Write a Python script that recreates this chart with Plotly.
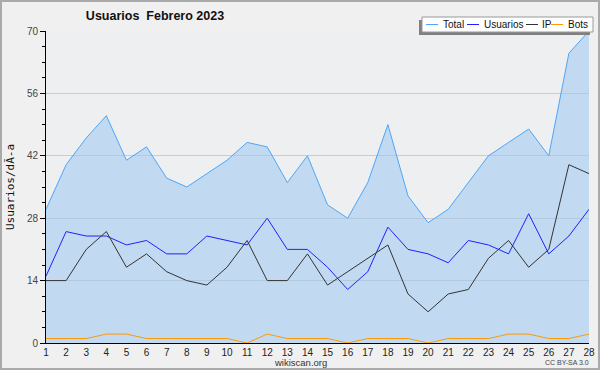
import plotly.graph_objects as go

days = list(range(1, 29))
total = [30, 40, 46, 51, 41, 44, 37, 35, 38, 41, 45, 44, 36, 42, 31, 28, 36, 49, 33, 27, 30, 36, 42, 45, 48, 42, 65, 70]
usuarios = [15, 25, 24, 24, 22, 23, 20, 20, 24, 23, 22, 28, 21, 21, 17, 12, 16, 26, 21, 20, 18, 23, 22, 20, 29, 20, 24, 30]
ip = [14, 14, 21, 25, 17, 20, 16, 14, 13, 17, 23, 14, 14, 20, 13, 16, 19, 22, 11, 7, 11, 12, 19, 23, 17, 21, 40, 38]
bots = [1, 1, 1, 2, 2, 1, 1, 1, 1, 1, 0, 2, 1, 1, 1, 0, 1, 1, 1, 0, 1, 1, 1, 2, 2, 1, 1, 2]
y_ticks = [0, 14, 28, 42, 56, 70]

series_names = ["Total", "Usuarios", "IP", "Bots"]
series_colors = ["#4da6f8", "#2020ff", "#333333", "#ff9900"]
series_values = [total, usuarios, ip, bots]

FONT = "Liberation Sans, Arial, sans-serif"

W, H = 600, 370
L, R, T, B = 46, 11, 31, 27
PW, PH = W - L - R, H - T - B


def px(x):
    return (x - L) / PW


def py(y):
    return (H - B - y) / PH


fig = go.Figure()
for name, color, vals in zip(series_names, series_colors, series_values):
    kw = {}
    if name == "Total":
        kw = dict(fill="tozeroy", fillcolor="rgba(156,201,240,0.55)")
    fig.add_trace(go.Scatter(x=days, y=vals, mode="lines", name=name,
                             line=dict(color=color, width=1), showlegend=False, **kw))

shapes = [
    # figure border
    dict(type="rect", xref="paper", yref="paper", x0=px(1), x1=px(599), y0=py(369), y1=py(1),
         line=dict(color="#aaaaaa", width=2), layer="above"),
    # legend shadow
    dict(type="rect", xref="paper", yref="paper", x0=px(419), x1=px(590), y0=py(35), y1=py(20),
         fillcolor="#808080", line=dict(width=0), layer="above"),
    # legend box
    dict(type="rect", xref="paper", yref="paper", x0=px(422), x1=px(593), y0=py(32), y1=py(17),
         fillcolor="white", line=dict(color="#999999", width=1), layer="above"),
]
annotations = []
leg_line_x = [426, 467, 526, 551]
leg_text_x = [442, 483, 541, 567]
for name, color, lx, tx in zip(series_names, series_colors, leg_line_x, leg_text_x):
    shapes.append(dict(type="line", xref="paper", yref="paper", x0=px(lx), x1=px(lx + 12),
                       y0=py(24.5), y1=py(24.5), line=dict(color=color, width=1), layer="above"))
    annotations.append(dict(text=name, xref="paper", yref="paper", x=px(tx - 1), y=py(24.5),
                            xanchor="left", yanchor="middle", showarrow=False,
                            font=dict(family=FONT, size=10, color="#111111")))

annotations.append(dict(text="wikiscan.org", xref="paper", yref="paper", x=px(300), y=py(362.5),
                        xanchor="center", yanchor="middle", showarrow=False,
                        font=dict(family=FONT, size=9.5, color="#333333")))
annotations.append(dict(text="CC BY-SA 3.0", xref="paper", yref="paper", x=px(591), y=py(362.5),
                        xanchor="right", yanchor="middle", showarrow=False,
                        font=dict(family=FONT, size=7, color="#444444")))

fig.update_layout(
    width=W, height=H,
    margin=dict(l=L, r=R, t=T, b=B, autoexpand=False),
    paper_bgcolor="#f0f0f0",
    plot_bgcolor="#eeeff1",
    title=dict(text="<b>Usuarios  Febrero 2023</b>", x=155 / W, xanchor="center",
               y=1 - 16 / H, yanchor="middle", yref="container",
               font=dict(family=FONT, size=12.5, color="#111111")),
    shapes=shapes,
    annotations=annotations,
    showlegend=False,
)
fig.update_xaxes(range=[1, 28], tickmode="array", tickvals=days, ticktext=[str(d) for d in days],
                 showgrid=False, zeroline=False, showline=True, linecolor="black", linewidth=1,
                 ticks="", tickfont=dict(family=FONT, size=10, color="#222222"), fixedrange=True)
fig.update_yaxes(range=[0, 70], tickmode="array", tickvals=y_ticks,
                 showgrid=True, gridcolor="#cccccc", gridwidth=1, zeroline=False,
                 showline=True, linecolor="black", linewidth=1,
                 ticks="outside", ticklen=5, tickcolor="black",
                 minor=dict(dtick=3.5, ticklen=3, tickcolor="black", ticks="outside", showgrid=False),
                 tickfont=dict(family=FONT, size=10, color="#444444"),
                 title=dict(text="Usuarios/dÃ-a", standoff=10,
                            font=dict(family="DejaVu Sans Mono, monospace", size=11, color="#111111")))

fig.write_html("out.html", config={"displayModeBar": False},
               post_script="document.body.style.margin='0';document.body.style.padding='0';")
